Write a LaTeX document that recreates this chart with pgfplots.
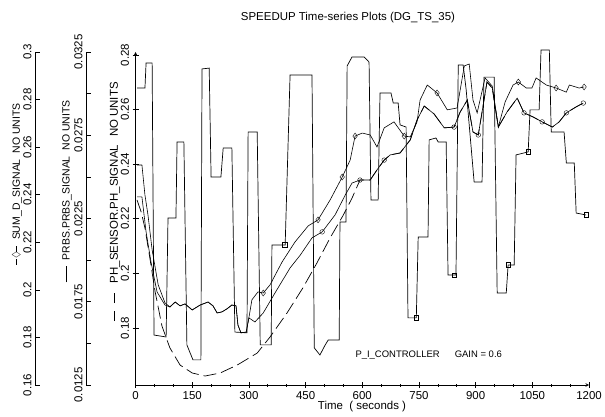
\documentclass[border=0pt]{standalone}
\usepackage{pgfplots}
\pgfplotsset{compat=1.18}
\usepackage{amssymb}
\usepackage{fontspec}
\setmainfont{Liberation Sans}

\pgfplotstableread{
x y
4 0.2679
25 0.2679
28 0.2771
44 0.2771
49 0.1774
81 0.1767
86 0.2203
107 0.2203
110 0.2481
128 0.2481
136 0.1738
152 0.1683
173 0.1683
176 0.2749
195 0.2752
200 0.2353
226 0.2353
232 0.2459
255 0.2459
263 0.1785
295 0.1782
298 0.2518
322 0.2518
330 0.1738
359 0.1738
361 0.2104
396 0.2104
409 0.2727
467 0.2727
473 0.1727
488 0.1701
502 0.1738
510 0.1756
539 0.1756
541 0.2188
557 0.2188
560 0.2760
573 0.2793
605 0.2793
618 0.2774
623 0.2269
642 0.2269
647 0.2661
676 0.2661
682 0.2624
695 0.2624
700 0.2544
716 0.2536
721 0.1837
743 0.1837
748 0.2133
774 0.2133
777 0.2489
795 0.2496
801 0.2481
822 0.2481
827 0.1994
848 0.1994
854 0.2763
867 0.2763
875 0.2672
896 0.2335
917 0.2335
922 0.2719
949 0.2719
957 0.1928
981 0.1928
986 0.2031
1002 0.2031
1007 0.2434
1039 0.2445
1044 0.2599
1068 0.2599
1073 0.2818
1095 0.2818
1100 0.2518
1134 0.2518
1140 0.2404
1161 0.2404
1166 0.2221
1192 0.2214
}\prbs

\pgfplotstableread{
x y
4 0.2397
17 0.2397
25 0.2287
33 0.2214
44 0.2086
60 0.1958
78 0.1892
91 0.1877
105 0.1895
118 0.1881
131 0.1888
150 0.1866
171 0.1884
192 0.1895
205 0.1881
216 0.1855
229 0.1859
242 0.1870
255 0.1884
266 0.1881
271 0.1811
279 0.1782
293 0.1785
300 0.1837
308 0.1903
324 0.1932
338 0.1928
356 0.1958
388 0.2042
422 0.2115
457 0.2174
483 0.2196
515 0.2269
547 0.2353
568 0.2415
581 0.2503
600 0.2514
621 0.2507
639 0.2463
658 0.2533
684 0.2555
711 0.2503
727 0.2500
745 0.2555
753 0.2635
772 0.2690
798 0.2661
825 0.2599
851 0.2606
870 0.2760
883 0.2767
893 0.2635
904 0.2588
925 0.2716
944 0.2686
960 0.2536
978 0.2628
999 0.2690
1013 0.2701
1034 0.2679
1049 0.2679
1060 0.2716
1087 0.2690
1113 0.2679
1140 0.2664
1148 0.2690
1174 0.2679
1187 0.2683
}\sumd

\pgfplotstableread{
x y
4 0.2280
17 0.2280
28 0.2152
41 0.2042
57 0.1932
78 0.1884
91 0.1877
105 0.1895
118 0.1881
131 0.1888
150 0.1866
171 0.1884
192 0.1895
205 0.1881
216 0.1855
229 0.1859
242 0.1870
255 0.1884
266 0.1881
271 0.1811
279 0.1782
293 0.1785
300 0.1837
316 0.1822
338 0.1855
369 0.1928
409 0.2020
436 0.2067
467 0.2130
494 0.2152
528 0.2214
555 0.2287
573 0.2331
594 0.2342
621 0.2342
639 0.2379
658 0.2415
674 0.2434
700 0.2441
727 0.2489
745 0.2562
764 0.2613
790 0.2584
817 0.2533
843 0.2536
859 0.2591
878 0.2635
893 0.2518
907 0.2507
930 0.2701
944 0.2679
960 0.2536
983 0.2591
1010 0.2642
1028 0.2588
1052 0.2573
1076 0.2555
1103 0.2536
1121 0.2555
1140 0.2588
1166 0.2610
1185 0.2624
}\circ

\pgfplotstableread{
x y
4 0.2269
15 0.2225
25 0.2166
38 0.2056
52 0.1932
70 0.1807
91 0.1727
118 0.1664
150 0.1635
184 0.1624
224 0.1635
269 0.1664
322 0.1708
356 0.1767
401 0.1855
443 0.1947
480 0.2038
515 0.2130
550 0.2214
573 0.2276
594 0.2342
621 0.2342
639 0.2379
658 0.2415
674 0.2434
700 0.2441
727 0.2489
745 0.2562
764 0.2613
790 0.2584
817 0.2533
843 0.2536
859 0.2591
878 0.2635
893 0.2518
907 0.2507
930 0.2701
944 0.2679
960 0.2536
983 0.2591
1010 0.2642
1028 0.2588
1052 0.2573
1076 0.2555
1103 0.2536
1121 0.2555
1140 0.2588
1166 0.2610
1185 0.2624
}\ph

\newcommand{\tfont}{\fontsize{10.5}{12}\selectfont}
\newcommand{\kfont}{\fontsize{11.5}{13}\selectfont}

\begin{document}
\begin{tikzpicture}[x=1bp,y=1bp]
\useasboundingbox (0,0) rectangle (605,416);
\pgfplotsset{
  every axis/.append style={
    scale only axis,
    axis line style={-, line width=0.6pt, black},
    every tick/.style={black, line width=0.6pt},
    scaled ticks=false,
    /pgf/number format/assume math mode=true,
    /pgf/number format/fixed,
    /pgf/number format/precision=4,
    /pgf/number format/1000 sep={},
    tick label style={font=\kfont},
    tick align=inside,
  },
}

% SUM_D axis (spine only)
\begin{axis}[at={(35bp,31bp)}, anchor=south west, width=10bp, height=333bp,
  xmin=0, xmax=1, ymin=0.16, ymax=0.30,
  hide x axis, axis y line*=left,
  ytick={0.16,0.18,0.2,0.22,0.24,0.26,0.28,0.3},
  major tick length=5bp,
  yticklabel style={rotate=90, anchor=south}]
\end{axis}

% PRBS axis (spine only)
\begin{axis}[at={(86bp,31bp)}, anchor=south west, width=10bp, height=333bp,
  xmin=0, xmax=1, ymin=0.0125, ymax=0.0325,
  hide x axis, axis y line*=left,
  ytick={0.0125,0.0175,0.0225,0.0275,0.0325},
  minor ytick={0.015,0.02,0.025,0.03},
  major tick length=5bp, minor tick length=5bp,
  yticklabel style={rotate=90, anchor=south}]
\end{axis}

% main axis
\begin{axis}[at={(135.5bp,31bp)}, anchor=south west, width=453.5bp, height=333bp,
  xmin=0, xmax=1200, ymin=0.1591, ymax=0.2811,
  axis x line=bottom, axis y line=left,
  xtick={0,150,300,450,600,750,900,1050,1200}, minor x tick num=2,
  ytick={0.18,0.2,0.22,0.24,0.26,0.28},
  major tick length=6bp, minor tick length=3bp,
  yticklabel style={rotate=90, anchor=south},
  clip=false]
\addplot[black, line width=0.7pt] table[x=x,y=y] {\prbs};
\addplot[black, line width=0.7pt, dash pattern=on 13bp off 5bp] table[x=x,y=y] {\ph};
\addplot[black, line width=0.6pt] table[x=x,y=y] {\circ};
\addplot[black, line width=0.6pt] table[x=x,y=y] {\sumd};
\addplot[only marks, mark=square, mark size=2.3pt, black, mark options={fill=white, line width=0.4pt}]
  coordinates {(395,0.2104)(743,0.1837)(843,0.1994)(986,0.2031)(1039,0.2445)(1192,0.2214)};
\addplot[only marks, mark=diamond, mark size=3pt, black, mark options={fill=white, line width=0.4pt}]
  coordinates {(338,0.1928)(483,0.2196)(547,0.2353)(581,0.2503)(711,0.2503)(798,0.2661)(1013,0.2701)(1113,0.2679)(1187,0.2683)};
\addplot[only marks, mark=o, mark size=2.3pt, black, mark options={fill=white, line width=0.4pt}]
  coordinates {(494,0.2152)(594,0.2342)(658,0.2415)(843,0.2536)(907,0.2507)(1028,0.2588)(1076,0.2555)(1140,0.2588)(1185,0.2624)};
\end{axis}

% labels
\node[rotate=90, anchor=east, font=\tfont, inner sep=0pt] at (17,313)
  {\rule[0.3em]{6bp}{0.5pt}\raisebox{0.05em}{$\Diamond$}\rule[0.3em]{6bp}{0.5pt}\hspace{6bp}SUM\_D\_SIGNAL\hspace{6bp}NO UNITS};
\node[rotate=90, anchor=east, font=\tfont, inner sep=0pt] at (67,316)
  {\rule[0.3em]{16bp}{0.5pt}\hspace{6bp}PRBS.PRBS\_SIGNAL\hspace{6bp}NO UNITS};
\node[rotate=90, anchor=east, font=\fontsize{11.5}{13}\selectfont, inner sep=0pt] at (115,334)
  {\rule[0.3em]{10bp}{0.5pt}\hspace{8bp}\rule[0.3em]{10bp}{0.5pt}\hspace{10bp}PH\_SENSOR.PH\_SIGNAL\hspace{8bp}NO UNITS};
\node[font=\fontsize{11.5}{13}\selectfont] at (348,398) {SPEEDUP Time-series Plots (DG\_TS\_35)};
\node[font=\fontsize{11.5}{13}\selectfont] at (362,9) {Time \ ( seconds )};
\node[anchor=west, font=\fontsize{9.5}{11}\selectfont] at (352,61) {P\_I\_CONTROLLER\hspace{1.6em}GAIN = 0.6};
\end{tikzpicture}
\end{document}
